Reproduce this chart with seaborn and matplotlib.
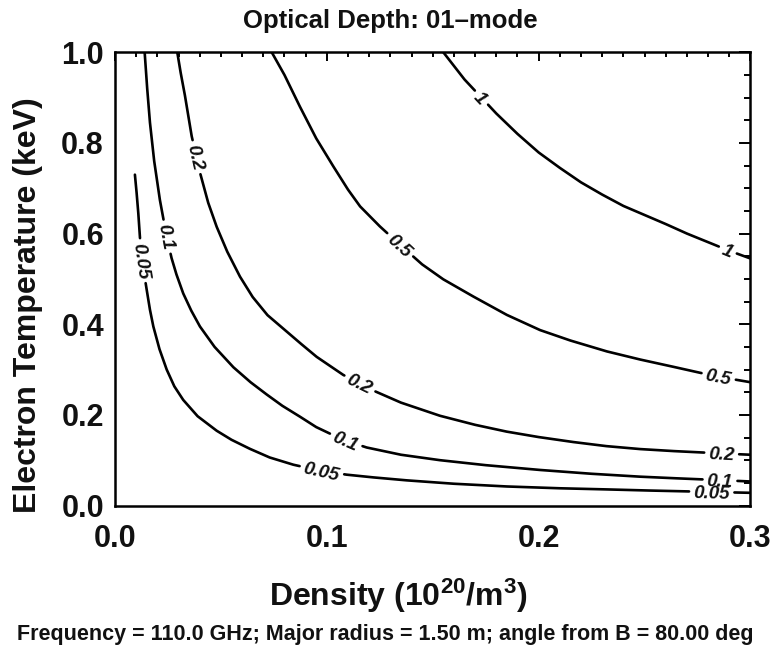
import numpy as np
import pandas as pd
import seaborn as sns
import matplotlib
matplotlib.use("Agg")
import matplotlib.pyplot as plt
from matplotlib.ticker import MultipleLocator, FormatStrFormatter

# ---------------- data ----------------
levels = [1.0, 0.5, 0.2, 0.1, 0.05]
level_text = ["1", "0.5", "0.2", "0.1", "0.05"]

dens_1 = [0.155, 0.16, 0.165, 0.17, 0.18, 0.19, 0.2, 0.21, 0.22, 0.23,
          0.24, 0.25, 0.26, 0.27, 0.28, 0.29, 0.3]
temp_1 = [1.0, 0.97, 0.94, 0.915, 0.865, 0.82, 0.779, 0.745, 0.713, 0.686,
          0.661, 0.641, 0.621, 0.6, 0.581, 0.562, 0.545]

dens_05 = [0.074, 0.08, 0.0873, 0.095, 0.1031, 0.11, 0.1157, 0.125, 0.1346,
           0.145, 0.155, 0.1692, 0.185, 0.2007, 0.215, 0.2322, 0.248, 0.2636,
           0.277, 0.29, 0.3]
temp_05 = [1.0, 0.95, 0.88, 0.81, 0.748, 0.697, 0.66, 0.616, 0.575,
           0.532, 0.499, 0.461, 0.4205, 0.387, 0.364, 0.34, 0.322, 0.306,
           0.292, 0.28, 0.272]

dens_02 = [0.0294, 0.031, 0.033, 0.0362, 0.0401, 0.044, 0.048, 0.053, 0.059,
           0.065, 0.072, 0.0795, 0.088, 0.0952, 0.1078, 0.1157, 0.122, 0.135,
           0.1534, 0.17, 0.1849, 0.2, 0.2164, 0.232, 0.2479, 0.264, 0.2794,
           0.29, 0.3]
temp_02 = [1.0, 0.955, 0.905, 0.815, 0.735, 0.668, 0.615, 0.56, 0.505,
           0.46, 0.42, 0.39, 0.356, 0.328, 0.288, 0.27, 0.2535, 0.227,
           0.198, 0.178, 0.163, 0.151, 0.14, 0.131, 0.1245, 0.12, 0.1165,
           0.114, 0.112]

dens_01 = [0.014, 0.0152, 0.0165, 0.0185, 0.0212, 0.0244, 0.0267, 0.029,
           0.0322, 0.036, 0.0401, 0.047, 0.0559, 0.064, 0.0716, 0.079, 0.0873,
           0.095, 0.1031, 0.109, 0.1188, 0.135, 0.1534, 0.175, 0.2007, 0.225,
           0.2479, 0.265, 0.2794, 0.29, 0.3]
temp_01 = [1.0, 0.92, 0.845, 0.76, 0.674, 0.593, 0.546, 0.51,
           0.468, 0.43, 0.395, 0.35, 0.305, 0.272, 0.245, 0.22, 0.196,
           0.173, 0.155, 0.143, 0.128, 0.112, 0.1, 0.089, 0.0784, 0.07,
           0.0636, 0.06, 0.0572, 0.055, 0.053]

dens_005 = [0.0094, 0.0102, 0.011, 0.0118, 0.0127, 0.0138, 0.015, 0.0165,
            0.0181, 0.021, 0.0244, 0.028, 0.0322, 0.039, 0.048, 0.055, 0.0637,
            0.073, 0.0842, 0.0976, 0.1094, 0.122, 0.1377, 0.16, 0.1849, 0.21,
            0.2322, 0.2525, 0.2715, 0.285, 0.3]
temp_005 = [0.73, 0.69, 0.645, 0.59, 0.545, 0.51, 0.475, 0.432,
            0.395, 0.345, 0.3, 0.263, 0.233, 0.197, 0.165, 0.145, 0.125,
            0.106, 0.09, 0.076, 0.068, 0.062, 0.0555, 0.048, 0.042, 0.038,
            0.0355, 0.033, 0.031, 0.0295, 0.028]

# contour label positions (density, temperature)
label_dens = [[0.173, 0.2888], [0.1346, 0.2849], [0.037, 0.1157, 0.2864],
              [0.0244, 0.109, 0.2856], [0.0127, 0.0976, 0.2817]]
label_temp = [[0.9, 0.558], [0.575, 0.283], [0.767, 0.27, 0.116],
              [0.593, 0.143, 0.0565], [0.54, 0.076, 0.029]]

x_ticks = [0.0, 0.1, 0.2, 0.3]
y_ticks = [0.0, 0.2, 0.4, 0.6, 0.8, 1.0]

title = "Optical Depth: 01\u2013mode"
xlabel = "Density (10$^{20}$/m$^{3}$)"
ylabel = "Electron Temperature (keV)"
footer = "Frequency = 110.0 GHz; Major radius = 1.50 m; angle from B = 80.00 deg"

curves = [(dens_1, temp_1), (dens_05, temp_05), (dens_02, temp_02),
          (dens_01, temp_01), (dens_005, temp_005)]

# ---------------- styling ----------------
sns.set_theme(style="white")
plt.rcParams["font.family"] = ["Liberation Sans", "DejaVu Sans"]
plt.rcParams["font.weight"] = "bold"
plt.rcParams["mathtext.fontset"] = "custom"
plt.rcParams["mathtext.rm"] = "Liberation Sans:bold"
plt.rcParams["mathtext.it"] = "Liberation Sans:italic:bold"
plt.rcParams["mathtext.bf"] = "Liberation Sans:bold"
plt.rcParams["mathtext.default"] = "regular"

W, H = 775, 649
fig = plt.figure(figsize=(W / 100, H / 100), dpi=100)
fig.patch.set_facecolor("white")
ax = fig.add_axes([115 / W, 1 - 505.5 / H, 635.5 / W, 453.2 / H])
ax.set_facecolor("white")
ax.set_xlim(0, 0.3)
ax.set_ylim(0, 1.0)

LABEL_FS = 13.5
GAP = 4.5  # px on each side of a label
renderer = fig.canvas.get_renderer()


def text_width(s):
    t = ax.text(0, 0, s, fontsize=LABEL_FS, fontstyle="italic", fontweight="bold")
    w = t.get_window_extent(renderer).width
    t.remove()
    return w


def point_at(pts, cum, s):
    j = int(np.searchsorted(cum, s) - 1)
    j = min(max(j, 0), len(pts) - 2)
    f = (s - cum[j]) / (cum[j + 1] - cum[j])
    return pts[j] + f * (pts[j + 1] - pts[j])


rows = []
labels_out = []
seg_id = 0
inv = ax.transData.inverted()
for i, (xs, ys) in enumerate(curves):
    pts = ax.transData.transform(np.column_stack([xs, ys]))
    seglen = np.hypot(np.diff(pts[:, 0]), np.diff(pts[:, 1]))
    cum = np.concatenate([[0], np.cumsum(seglen)])
    half = text_width(level_text[i]) / 2 + GAP
    gaps = []
    for lx, ly in zip(label_dens[i], label_temp[i]):
        p = ax.transData.transform((lx, ly))
        best = None
        for j in range(len(pts) - 1):
            a, b = pts[j], pts[j + 1]
            ab = b - a
            t = np.clip(np.dot(p - a, ab) / np.dot(ab, ab), 0, 1)
            q = a + t * ab
            dd = np.hypot(*(p - q))
            if best is None or dd < best[0]:
                best = (dd, cum[j] + t * seglen[j], q, ab)
        _, s0, q, ab = best
        ang = np.degrees(np.arctan2(ab[1], ab[0]))
        if ang > 90:
            ang -= 180
        if ang < -90:
            ang += 180
        gaps.append((s0 - half, s0 + half))
        labels_out.append((inv.transform(q), level_text[i], ang))
    gaps.sort()
    starts = [0.0] + [g[1] for g in gaps]
    ends = [g[0] for g in gaps] + [cum[-1]]
    for s_a, s_b in zip(starts, ends):
        s_a = max(s_a, 0.0)
        s_b = min(s_b, cum[-1])
        if s_b - s_a < 1.0:
            continue
        pa = point_at(pts, cum, s_a)
        pb = point_at(pts, cum, s_b)
        inner = [pts[k] for k in range(len(pts)) if s_a < cum[k] < s_b]
        piece = np.array([pa] + inner + [pb])
        dpiece = inv.transform(piece)
        for order, (dx, dy) in enumerate(dpiece):
            rows.append({"density": dx, "temperature": dy,
                         "seg": seg_id, "order": order, "level": levels[i]})
        seg_id += 1

df = pd.DataFrame(rows)
sns.lineplot(data=df, x="density", y="temperature", units="seg",
             estimator=None, sort=False, color="black", lw=1.9, ax=ax,
             legend=False)

for (qx, qy), txt, ang in labels_out:
    ax.text(qx, qy, txt, rotation=ang, rotation_mode="anchor",
            ha="center", va="center_baseline", fontsize=LABEL_FS,
            fontstyle="italic", fontweight="bold", color="#111111", zorder=5)

ax.set_xlim(0, 0.3)
ax.set_ylim(0, 1.0)
ax.set_xticks(x_ticks)
ax.set_yticks(y_ticks)
ax.xaxis.set_major_formatter(FormatStrFormatter("%.1f"))
ax.yaxis.set_major_formatter(FormatStrFormatter("%.1f"))
ax.xaxis.set_minor_locator(MultipleLocator(0.01))
ax.yaxis.set_minor_locator(MultipleLocator(0.05))
ax.set_xlabel("")
ax.set_ylabel("")

for s in ax.spines.values():
    s.set_visible(True)
    s.set_color("black")
    s.set_linewidth(1.8)

ax.tick_params(axis="both", which="both", direction="in", top=True, right=True,
               color="black", width=1.4)
ax.tick_params(axis="x", which="major", length=6.5, pad=13, labelsize=22)
ax.tick_params(axis="x", which="minor", length=3.3)
ax.tick_params(axis="y", which="major", length=8, pad=8, labelsize=22)
ax.tick_params(axis="y", which="minor", length=4)
for lab in ax.get_xticklabels() + ax.get_yticklabels():
    lab.set_fontweight("bold")
    lab.set_color("#111111")

# ---------------- titles ----------------
fig.text(390 / W, 1 - 28 / H, title, ha="center", va="baseline",
         fontsize=18.5, fontweight="bold", color="#111111")
fig.text(398 / W, 1 - 606 / H, xlabel, ha="center", va="baseline",
         fontsize=23, fontweight="bold", color="#111111")
fig.text(28 / W, 1 - 305 / H, ylabel, ha="center", va="center", rotation=90,
         fontsize=23, fontweight="bold", color="#111111")
fig.text(385 / W, 1 - 640 / H, footer, ha="center", va="baseline",
         fontsize=15.5, fontweight="bold", color="#111111")

fig.savefig("out.png", dpi=100, facecolor="white")
